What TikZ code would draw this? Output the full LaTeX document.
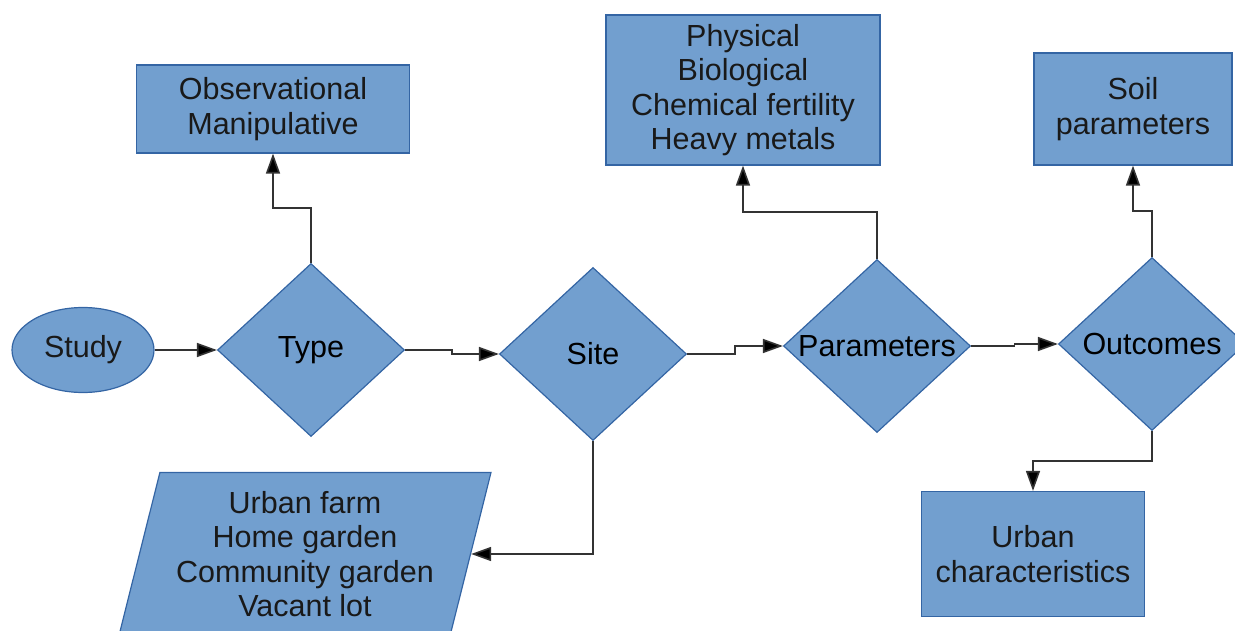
\documentclass[tikz,border=0pt]{standalone}
\usepackage{fontspec}
\setmainfont{Liberation Sans}
\usepackage{tikz}
\usetikzlibrary{calc,arrows.meta,shapes.geometric}

\definecolor{boxfill}{HTML}{729FCF}
\definecolor{boxline}{HTML}{3465A4}
\definecolor{connline}{HTML}{333333}

\tikzset{
  base/.style={fill=boxfill,draw=boxline,line width=1.2pt,inner sep=0pt,
               font=\fontsize{30.5}{34.5}\selectfont,align=center,text=black!90},
  ovalbox/.style={base,ellipse,minimum width=142pt,minimum height=85pt},
  choice/.style={base,diamond,minimum width=187pt,minimum height=173pt},
  infobox/.style={base,rectangle},
  slantbox/.style={base,trapezium,trapezium left angle=72,trapezium right angle=108,
                   trapezium stretches body,minimum width=372pt,minimum height=163pt},
  conn/.style={draw=connline,line width=1.6pt,-{Triangle[length=20pt,width=14pt,fill=black]}}
}

\begin{document}
\begin{tikzpicture}[x=1pt,y=-1pt]
                      \useasboundingbox (0,0) rectangle (1235,631);
                      % main row
                      \node[ovalbox] (study) at (83,350) {Study};
                      \node[choice,label=center:{\fontsize{30.5}{34.5}\selectfont Type}] (type) at (311,350) {};
                      \node[choice,label=center:{\fontsize{30.5}{34.5}\selectfont Site}] (site) at (593,354) {};
                      \node[choice,label=center:{\fontsize{30.5}{34.5}\selectfont Parameters}] (params) at (877,346) {};
                      \node[choice,label=center:{\fontsize{30.5}{34.5}\selectfont Outcomes}] (outcomes) at (1152,344) {};
                      % side boxes
                      \node[infobox,minimum width=273pt,minimum height=88pt] (design) at (273,109) {Observational\\Manipulative};
                      \node[infobox,minimum width=274pt,minimum height=150pt] (props) at (743,90) {Physical\\Biological\\Chemical fertility\\Heavy metals};
                      \node[infobox,minimum width=198pt,minimum height=112pt] (soil) at (1133,109) {Soil\\parameters};
                      \node[infobox,minimum width=223pt,minimum height=125pt] (urban) at (1033,554) {Urban\\characteristics};
                      \node[slantbox] (landuse) at (305,554) {Urban farm\\Home garden\\Community garden\\Vacant lot};
                      % connectors
                      \draw[conn] (study.east) -- (type.west);
                      \draw[conn] (type.east) -| ($(type.east)!0.5!(site.west)$) |- (site.west);
                      \draw[conn] (site.east) -| ($(site.east)!0.5!(params.west)$) |- (params.west);
                      \draw[conn] (params.east) -| ($(params.east)!0.5!(outcomes.west)$) |- (outcomes.west);
                      \draw[conn] (type.north) |- ($(type.north)!0.5!(design.south)$) -| (design.south);
                      \draw[conn] (params.north) |- ($(params.north)!0.5!(props.south)$) -| (props.south);
                      \draw[conn] (outcomes.north) |- ($(outcomes.north)!0.5!(soil.south)$) -| (soil.south);
                      \draw[conn] (outcomes.south) |- ($(outcomes.south)!0.5!(urban.north)$) -| (urban.north);
                      \draw[conn] (site.south) |- (landuse.east);
                  \end{tikzpicture}
\end{document}
